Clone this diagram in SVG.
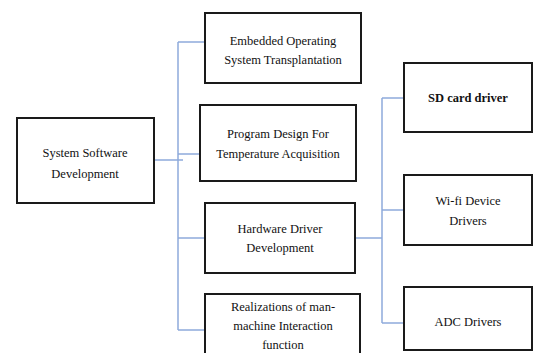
<svg xmlns="http://www.w3.org/2000/svg" width="534" height="353" viewBox="0 0 534 353">
<style>
.box{fill:#fff;stroke:#1a1a1a;stroke-width:2}
.t{font-family:"Liberation Serif","Times New Roman",serif;font-size:12.5px;fill:#111;text-anchor:middle}
.b{font-weight:bold}
.c{fill:none;stroke:#8eaadb;stroke-width:1.5}
</style>
<rect width="534" height="353" fill="#fff"/>
<g id="connectors">
<path class="c" d="M155 160H183M178 42V330M178 42H205M178 154H200M178 238H205M178 330H205"/>
<path class="c" d="M355 238H382M382 98V323M382 98H404M382 210H404M382 323H404"/>
</g>
<g id="n-system"><rect class="box" x="17" y="118" width="137" height="85"/>
<text class="t" x="85" y="157">System Software</text><text class="t" x="85" y="178">Development</text></g>
<g id="n-embedded"><rect class="box" x="205" y="13" width="156" height="70"/>
<text class="t" x="283" y="45">Embedded Operating</text><text class="t" x="283" y="64">System Transplantation</text></g>
<g id="n-program"><rect class="box" x="200" y="105" width="156" height="76"/>
<text class="t" x="278" y="138">Program Design For</text><text class="t" x="278" y="158">Temperature Acquisition</text></g>
<g id="n-hardware"><rect class="box" x="205" y="203" width="150" height="70"/>
<text class="t" x="280" y="233">Hardware Driver</text><text class="t" x="280" y="252">Development</text></g>
<g id="n-realizations"><rect class="box" x="205" y="294" width="155" height="70"/>
<text class="t" x="283" y="311">Realizations of man-</text><text class="t" x="283" y="330">machine Interaction</text><text class="t" x="283" y="349">function</text></g>
<g id="n-sd"><rect class="box" x="404" y="63" width="128" height="69"/>
<text class="t b" x="468" y="102">SD card driver</text></g>
<g id="n-wifi"><rect class="box" x="404" y="175" width="128" height="70"/>
<text class="t" x="468" y="205">Wi-fi Device</text><text class="t" x="468" y="225">Drivers</text></g>
<g id="n-adc"><rect class="box" x="404" y="287" width="128" height="63"/>
<text class="t" x="468" y="326">ADC Drivers</text></g>
</svg>
